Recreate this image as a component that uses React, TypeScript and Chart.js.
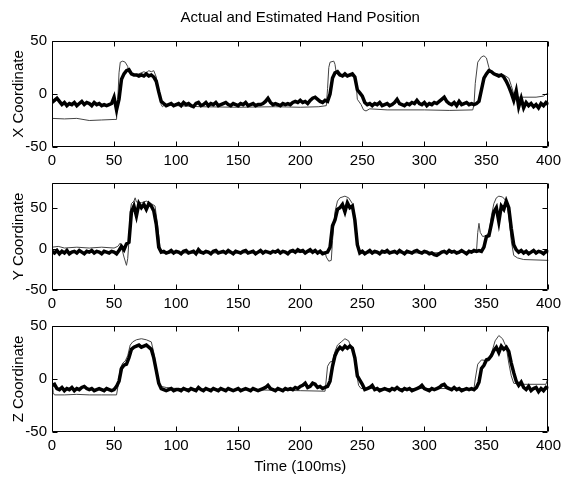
import { useEffect, useRef } from 'react';
import { Chart, registerables } from 'chart.js';

Chart.register(...registerables);

const TITLE = 'Actual and Estimated Hand Position';
const X_LABEL = 'Time (100ms)';
const Y_LABELS = ['X Coordinate', 'Y Coordinate', 'Z Coordinate'];
const X_TICKS = [0, 50, 100, 150, 200, 250, 300, 350, 400];
const Y_TICKS = [-50, 0, 50];
const Y_RANGES: [number, number][] = [[-50, 50], [-50, 80], [-50, 50]];
const X_MIN = 0;
const X_MAX = 400;
const STEP = 2; // estimated series sampled every 2 time steps

// Actual hand position (thin line): [time, value] breakpoints
const ACT_X: [number, number][] = [
  [0, -23], [10, -23.5], [20, -23], [30, -25], [40, -24.5], [50, -24], [52, -24], [53, -5], [54, 20], [55, 30],
  [57, 31], [59, 30], [61, 26], [62, 20], [66, 18], [70, 19], [74, 21], [76, 20], [78, 22], [80, 21],
  [82, 22], [84, 16], [86, 2], [88, -10], [89, -12], [91, -10], [100, -11], [120, -12], [150, -12.5], [180, -12],
  [200, -12.5], [215, -12], [221, -11], [222, 5], [223, 25], [224, 30], [227, 31], [228, 28], [229, 20], [231, 17],
  [240, 17], [244, 17], [245, 10], [246, -5], [249, -10], [251, -15], [253, -16], [256, -14], [270, -15], [300, -15],
  [320, -15.5], [339, -15], [340, -10], [341, 10], [343, 30], [346, 35], [348, 36], [350, 34], [352, 25], [354, 20],
  [358, 19], [364, 18], [368, 15], [370, 8], [372, 0], [374, -3], [390, -3], [396, -2], [398, 0], [400, 0],
];
const ACT_Y: [number, number][] = [
  [0, 2], [5, 3], [10, 1], [20, 2], [30, 1], [40, 2], [50, 1], [53, 3], [55, 7], [56, 2],
  [58, -10], [60, -20], [61, -12], [62, 10], [63, 45], [64, 55], [66, 58], [67, 62], [68, 57], [72, 56],
  [76, 58], [80, 55], [83, 52], [85, 30], [87, 2], [89, -5], [100, -5], [150, -5], [200, -4], [220, -4],
  [221, -10], [223, -15], [225, -14], [226, 10], [228, 45], [230, 58], [232, 62], [236, 64], [239, 62], [242, 55],
  [244, 40], [246, 5], [248, -5], [260, -5], [300, -5], [340, -4], [342, -3], [343, 20], [344, 31], [345, 20],
  [347, 15], [350, 16], [352, 20], [354, 40], [356, 55], [358, 62], [360, 64], [363, 63], [366, 58], [368, 40],
  [370, 10], [372, -8], [375, -11], [380, -13], [400, -14],
];
const ACT_Z: [number, number][] = [
  [0, 0], [1, -13], [2, -15], [10, -15], [20, -14.5], [30, -15], [40, -15], [52, -15], [53, -8], [55, 10],
  [57, 15], [59, 17], [61, 22], [63, 32], [65, 35], [68, 37], [72, 38], [76, 37], [80, 35], [82, 25],
  [84, 10], [86, -4], [88, -7], [92, -8], [100, -9], [150, -10], [200, -11], [220, -11.5], [221, 0], [222, 12],
  [224, 16], [226, 17], [228, 26], [230, 32], [233, 35], [236, 38], [239, 36], [241, 30], [243, 28], [245, 8],
  [247, -6], [249, -9], [260, -9], [300, -9], [340, -9], [341, 0], [343, 14], [346, 18], [352, 17], [355, 28],
  [357, 36], [360, 41], [363, 38], [366, 30], [368, 15], [370, 3], [372, -4], [378, -5], [398, -5], [399, -1],
  [400, -1],
];

// Estimated hand position (thick line): values at t = 0, 2, 4, ..., 400
const EST_X = [
  -8, -6, -4, -7, -10, -8, -11, -9, -10, -8,
  -11, -9, -7, -10, -8, -9, -11, -8, -10, -9,
  -11, -10, -11, -10, -9, -3, -15, -5, 14, 19,
  22, 23, 19, 18, 18, 17, 18, 17, 19, 17,
  18, 16, 12, 2, -7, -9, -11, -10, -9, -11,
  -10, -9, -11, -8, -10, -9, -11, -12, -9, -8,
  -11, -10, -8, -11, -9, -10, -8, -11, -10, -9,
  -8, -10, -11, -9, -10, -11, -9, -10, -8, -11,
  -10, -9, -11, -10, -10, -9, -7, -4, -8, -10,
  -9, -10, -11, -9, -10, -9, -10, -8, -7, -8,
  -6, -8, -7, -9, -6, -4, -3, -5, -7, -8,
  -6, -7, 0, 15, 20, 21, 18, 17, 19, 17,
  18, 19, 16, 4, 1, -2, -8, -10, -9, -11,
  -9, -10, -8, -11, -10, -9, -11, -10, -8, -5,
  -9, -10, -11, -9, -10, -8, -9, -6, -9, -10,
  -8, -11, -9, -10, -8, -9, -7, -5, -3, -7,
  -9, -10, -8, -11, -7, -10, -9, -8, -10, -9,
  -10, -9, -7, 4, 15, 19, 22, 21, 19, 18,
  17, 18, 16, 12, 7, 1, -6, 3, -12, -4,
  -13, -8, -11, -9, -12, -10, -13, -9, -11, -8,
  -10,
];
const EST_Y = [
  -3, -5, -2, -6, -3, -5, -2, -6, -4, -3,
  -5, -2, -4, -6, -3, -4, -2, -5, -3, -4,
  -6, -3, -4, -5, -3, -4, -6, -2, 3, -1,
  6, 8, 45, 52, 40, 55, 50, 54, 48, 55,
  52, 46, 30, 2, -4, -3, -5, -4, -2, -5,
  -3, -4, -6, -3, -2, -5, -4, -3, -6, -1,
  -4, -5, -3, -4, -6, -3, -2, -5, -4, -3,
  -5, -2, -4, -6, -3, -4, -5, -3, -2, -5,
  -4, -3, -6, -4, -2, -5, -3, -4, -5, -3,
  -4, -2, -5, -3, -4, -6, -3, -2, -4, -1,
  -3, -2, -5, -3, -1, -4, -2, -5, -3, -6,
  -5, -4, 2, 28, 35, 48, 50, 54, 45, 56,
  50, 52, 35, 5, -5, -3, -6, -4, -2, -5,
  -3, -4, -6, -3, -4, -2, -5, -4, -3, -5,
  -2, -4, -6, -3, -4, -5, -3, -2, -4, -5,
  -3, -4, -6, -5, -7, -8, -6, -4, -3, -5,
  -2, -4, -3, -5, -4, -2, -4, -6, -3, -4,
  -2, -3, -2, -3, 2, 15, 16, 30, 45, 50,
  33, 52, 48, 58, 50, 25, 5, -1, -4, -2,
  -5, -3, -6, -4, -2, -5, -3, -4, -6, -3,
  -4,
];
const EST_Z = [
  -6, -5, -9, -10, -8, -11, -9, -10, -8, -11,
  -9, -10, -8, -7, -9, -10, -9, -11, -10, -9,
  -10, -11, -9, -10, -11, -10, -7, -2, 10, 13,
  14, 20, 28, 30, 31, 32, 30, 31, 32, 30,
  28, 20, 8, -4, -9, -10, -11, -10, -9, -11,
  -10, -10, -11, -9, -10, -11, -9, -10, -11, -8,
  -10, -11, -9, -10, -11, -9, -10, -11, -9, -10,
  -11, -9, -10, -11, -10, -9, -11, -10, -9, -10,
  -11, -9, -10, -11, -10, -9, -8, -6, -9, -10,
  -11, -9, -10, -11, -9, -10, -9, -10, -8, -9,
  -7, -6, -4, -8, -7, -4, -5, -8, -7, -9,
  -8, -7, -2, 12, 22, 27, 30, 28, 31, 29,
  31, 29, 20, 3, -1, -5, -10, -9, -8, -6,
  -10, -9, -11, -10, -9, -10, -11, -9, -10, -8,
  -10, -11, -9, -10, -9, -11, -10, -9, -8, -6,
  -9, -10, -11, -9, -10, -9, -8, -6, -5, -8,
  -9, -10, -8, -10, -9, -11, -10, -9, -10, -9,
  -10, -8, -3, 10, 13, 18, 19, 22, 27, 30,
  25, 31, 28, 30, 26, 15, 6, -2, -6, -3,
  -8, -10, -7, -11, -9, -8, -12, -9, -11, -8,
  -9,
];

const ACTUAL = [ACT_X, ACT_Y, ACT_Z];
const ESTIMATED = [EST_X, EST_Y, EST_Z];

const W = 566;
const H = 483;
const FONT = "'Liberation Sans', Arial, Helvetica, sans-serif";
// plot-area boxes (top, bottom) for the three axes
const PLOT_LEFT = 52;
const PLOT_RIGHT = 551;
const PLOT_TB: [number, number][] = [[41, 147], [183, 290], [326, 432]];

const matlabAxes = {
  id: 'matlabAxes',
  afterDatasetsDraw(chart: any) {
    const { ctx, chartArea: a, scales } = chart;
    const L = Math.round(a.left) + 0.5;
    const R = Math.round(a.right) - 0.5;
    const T = Math.round(a.top) + 0.5;
    const B = Math.round(a.bottom) - 0.5;
    const tl = 5;
    ctx.save();
    ctx.strokeStyle = '#000';
    ctx.lineWidth = 1;
    ctx.beginPath();
    ctx.rect(L, T, R - L, B - T);
    for (const t of scales.x.ticks) {
      const px = Math.round(scales.x.getPixelForValue(t.value)) + 0.5;
      ctx.moveTo(px, B);
      ctx.lineTo(px, B - tl);
      ctx.moveTo(px, T);
      ctx.lineTo(px, T + tl);
    }
    for (const t of scales.y.ticks) {
      const py = Math.round(scales.y.getPixelForValue(t.value)) + 0.5;
      ctx.moveTo(L, py);
      ctx.lineTo(L + tl, py);
      ctx.moveTo(R, py);
      ctx.lineTo(R - tl, py);
    }
    ctx.stroke();
    ctx.restore();
  },
};

function makeConfig(k: number): any {
  const [top, bottom] = PLOT_TB[k];
  const isFirst = k === 0;
  const isLast = k === 2;
  const xAxisH = isLast ? 45 : 20;
  const titleFont = { family: FONT, size: 15 };
  return {
    type: 'line',
    data: {
      datasets: [
        {
          label: 'Estimated',
          data: ESTIMATED[k].map((y, i) => ({ x: i * STEP, y })),
          borderColor: '#000',
          borderWidth: 3.5,
          pointRadius: 0,
          tension: 0,
          order: 0,
        },
        {
          label: 'Actual',
          data: ACTUAL[k].map(([x, y]) => ({ x, y })),
          borderColor: '#444',
          borderWidth: 1,
          pointRadius: 0,
          tension: 0,
          order: 1,
        },
      ],
    },
    options: {
      animation: false,
      responsive: false,
      devicePixelRatio: 1,
      events: [],
      layout: {
        padding: {
          left: 0,
          right: W - PLOT_RIGHT,
          top: isFirst ? 0 : top,
          bottom: H - bottom - xAxisH,
        },
      },
      plugins: {
        legend: { display: false },
        tooltip: { enabled: false },
        title: {
          display: isFirst,
          fullSize: false,
          text: TITLE,
          color: '#000',
          font: { family: FONT, size: 15, weight: 'normal' },
          padding: { top: 9, bottom: top - 9 - 18 },
        },
      },
      scales: {
        x: {
          type: 'linear',
          min: X_MIN,
          max: X_MAX,
          grid: { display: false, drawTicks: false },
          border: { display: false },
          afterBuildTicks: (s: any) => {
            s.ticks = X_TICKS.map((v) => ({ value: v }));
          },
          afterFit: (s: any) => {
            s.height = xAxisH;
          },
          ticks: {
            autoSkip: false,
            maxRotation: 0,
            padding: 5,
            color: '#000',
            font: { family: FONT, size: 15 },
          },
          title: {
            display: isLast,
            text: X_LABEL,
            color: '#000',
            font: titleFont,
            padding: { top: 0, bottom: 1 },
          },
        },
        y: {
          type: 'linear',
          min: Y_RANGES[k][0],
          max: Y_RANGES[k][1],
          grid: { display: false, drawTicks: false },
          border: { display: false },
          afterBuildTicks: (s: any) => {
            s.ticks = Y_TICKS.map((v) => ({ value: v }));
          },
          afterFit: (s: any) => {
            s.width = PLOT_LEFT;
          },
          ticks: {
            autoSkip: false,
            padding: 5,
            color: '#000',
            font: { family: FONT, size: 15 },
          },
          title: {
            display: true,
            text: Y_LABELS[k],
            color: '#000',
            font: titleFont,
            padding: { top: 10, bottom: 0 },
          },
        },
      },
    },
    plugins: [matlabAxes],
  };
}

export default function App() {
  const r0 = useRef<HTMLCanvasElement | null>(null);
  const r1 = useRef<HTMLCanvasElement | null>(null);
  const r2 = useRef<HTMLCanvasElement | null>(null);

  useEffect(() => {
    const refs = [r0, r1, r2];
    const charts = refs.map((r, k) => new Chart(r.current as HTMLCanvasElement, makeConfig(k)));
    return () => charts.forEach((c) => c.destroy());
  }, []);

  const cs: any = { position: 'absolute', left: 0, top: 0, width: W, height: H };
  return (
    <div style={{ position: 'fixed', left: 0, top: 0, width: W, height: H, background: '#fff' }}>
      <canvas ref={r0} width={W} height={H} style={cs} />
      <canvas ref={r1} width={W} height={H} style={cs} />
      <canvas ref={r2} width={W} height={H} style={cs} />
    </div>
  );
}
